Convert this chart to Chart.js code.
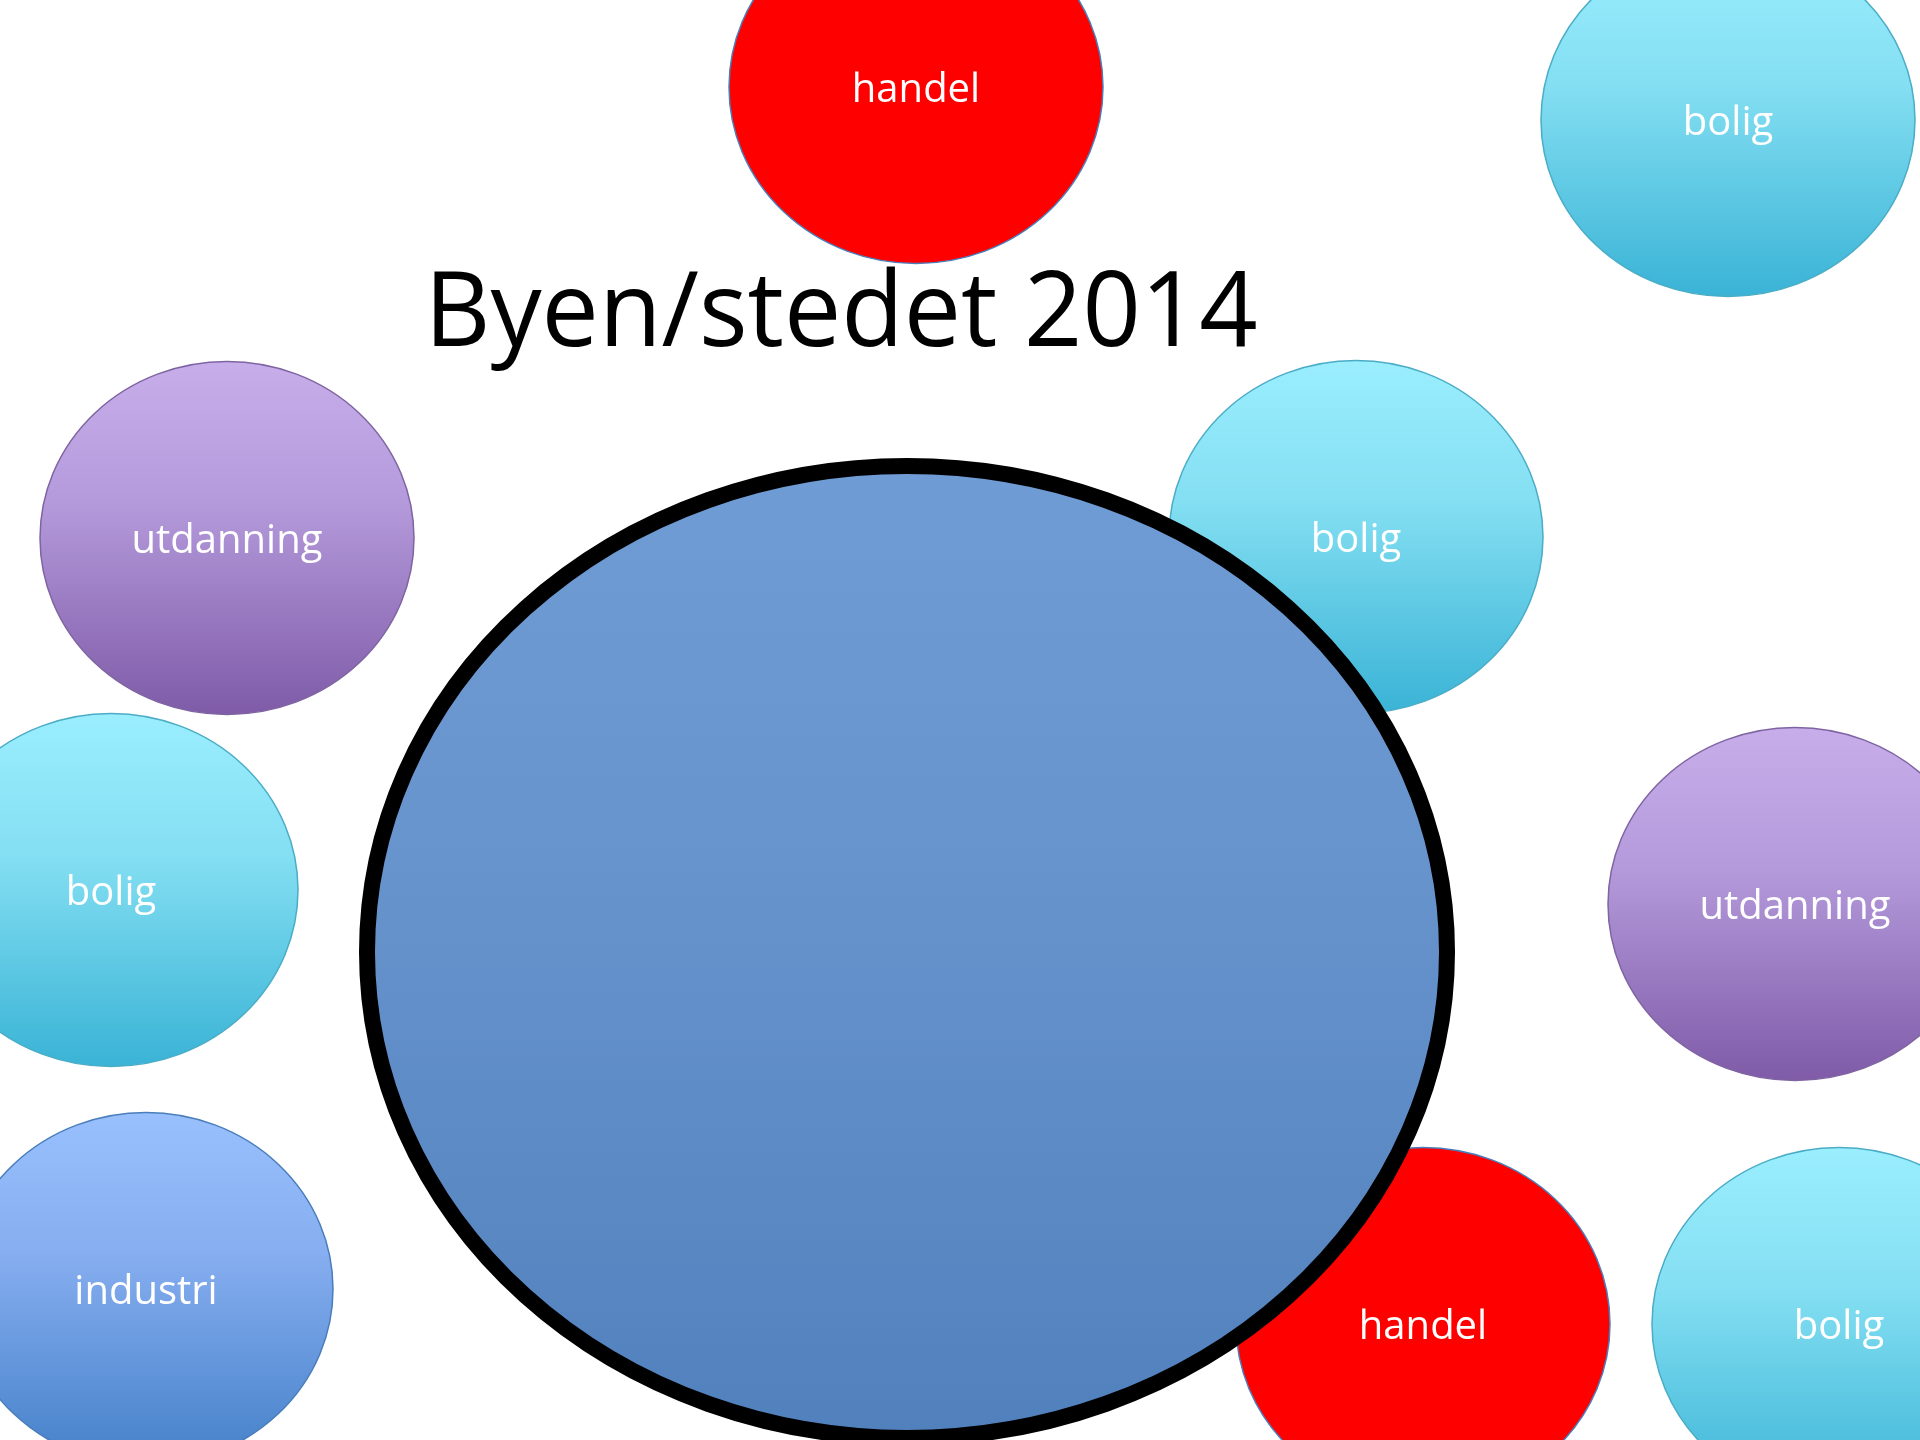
<!DOCTYPE html>
<html>
<head>
<meta charset="utf-8">
<script src="https://cdn.jsdelivr.net/npm/chart.js@4/dist/chart.umd.min.js"></script>
<style>
  html, body { margin: 0; padding: 0; background: #fff; }
  #wrap { width: 1920px; height: 1440px; }
</style>
</head>
<body>
<div id="wrap"><canvas id="map" width="1920" height="1440"></canvas></div>
<script>
/* Byen/stedet 2014 — sector bubbles around the town, drawn on a scatter chart */

const titleText = "Byen/stedet 2014";

// small sector bubbles (centres in the 1920x1440 data space)
const sectorLabels = ["handel", "bolig", "utdanning", "bolig", "bolig", "utdanning", "industri", "handel", "bolig"];
const sectorKinds  = ["handel", "bolig", "utdanning", "bolig", "bolig", "utdanning", "industri", "handel", "bolig"];
const sectorX = [916, 1728, 227, 1356, 111, 1795, 146, 1423, 1839];
const sectorY = [87, 120, 538, 537, 890, 904, 1289, 1324, 1324];

// the town itself
const hubX = [907];
const hubY = [952];

const SECTOR_RX = 187, SECTOR_RY = 176.5;
const HUB_RX = 540, HUB_RY = 486;

const palette = {
  bolig:     { top: "#9AEEFE", mid: "#84DFF2", bottom: "#3AB3D6", border: "#4BACC6" },
  utdanning: { top: "#C7AEEA", mid: "#B49ADB", bottom: "#7F5BA8", border: "#7F64A2" },
  industri:  { top: "#99C0FD", mid: "#86AEF0", bottom: "#4480C8", border: "#4A7EBB" },
  handel:    { top: "#FF0000", mid: "#FF0000", bottom: "#FF0000", border: "#4A7EBB" },
  hub:       { top: "#6F9CD5", mid: "#6894CD", bottom: "#5181BD", border: "#000000" },
};

function ellipsePath(ctx, cx, cy, rx, ry) {
  ctx.beginPath();
  ctx.ellipse(cx, cy, rx, ry, 0, 0, Math.PI * 2);
}

function fillEllipse(ctx, cx, cy, rx, ry, col, lineWidth) {
  const g = ctx.createLinearGradient(0, cy - ry, 0, cy + ry);
  g.addColorStop(0, col.top);
  g.addColorStop(0.4, col.mid);
  g.addColorStop(1, col.bottom);
  ellipsePath(ctx, cx, cy, rx, ry);
  ctx.fillStyle = g;
  ctx.fill();
  ctx.lineWidth = lineWidth;
  ctx.strokeStyle = col.border;
  ctx.stroke();
}

const ellipsePlugin = {
  id: "ellipses",
  afterDatasetsDraw(chart) {
    const { ctx, scales: { x, y } } = chart;
    ctx.save();

    // sectors first, the town sits on top of them
    const meta = chart.getDatasetMeta(0);
    meta.data.forEach((el, i) => {
      const d = chart.data.datasets[0].data[i];
      const rx = Math.abs(x.getPixelForValue(d.x + SECTOR_RX) - el.x);
      const ry = Math.abs(y.getPixelForValue(d.y + SECTOR_RY) - el.y);
      fillEllipse(ctx, el.x, el.y, rx, ry, palette[d.kind], 1.5);
      ctx.fillStyle = "#FFFFFF";
      ctx.font = '40px "Open Sans"';
      ctx.textAlign = "center";
      ctx.textBaseline = "alphabetic";
      ctx.fillText(d.label, el.x, el.y + 15);
    });

    const hub = chart.getDatasetMeta(1);
    hub.data.forEach((el, i) => {
      const d = chart.data.datasets[1].data[i];
      const rx = Math.abs(x.getPixelForValue(d.x + HUB_RX) - el.x);
      const ry = Math.abs(y.getPixelForValue(d.y + HUB_RY) - el.y);
      fillEllipse(ctx, el.x, el.y, rx, ry, palette.hub, 16);
    });

    // title, squeezed to the narrow look of the original
    const tx = x.getPixelForValue(841), ty = y.getPixelForValue(346);
    ctx.font = '104px "Open Sans"';
    const w = ctx.measureText(titleText).width;
    ctx.translate(tx, ty);
    ctx.scale(833 / w, 1);
    ctx.fillStyle = "#000000";
    ctx.textAlign = "center";
    ctx.fillText(titleText, 0, 0);
    ctx.restore();
  },
};

new Chart(document.getElementById("map"), {
  type: "scatter",
  data: {
    datasets: [
      {
        label: "sektorer",
        data: sectorLabels.map((l, i) => ({ x: sectorX[i], y: sectorY[i], label: l, kind: sectorKinds[i] })),
        pointRadius: 0,
      },
      {
        label: "byen",
        data: hubX.map((v, i) => ({ x: v, y: hubY[i] })),
        pointRadius: 0,
      },
    ],
  },
  options: {
    responsive: false,
    devicePixelRatio: 1,
    animation: false,
    layout: { padding: 0 },
    plugins: { legend: { display: false }, tooltip: { enabled: false } },
    scales: {
      x: { type: "linear", min: 0, max: 1920, display: false },
      y: { type: "linear", min: 0, max: 1440, reverse: true, display: false },
    },
  },
  plugins: [ellipsePlugin],
});
</script>
</body>
</html>
